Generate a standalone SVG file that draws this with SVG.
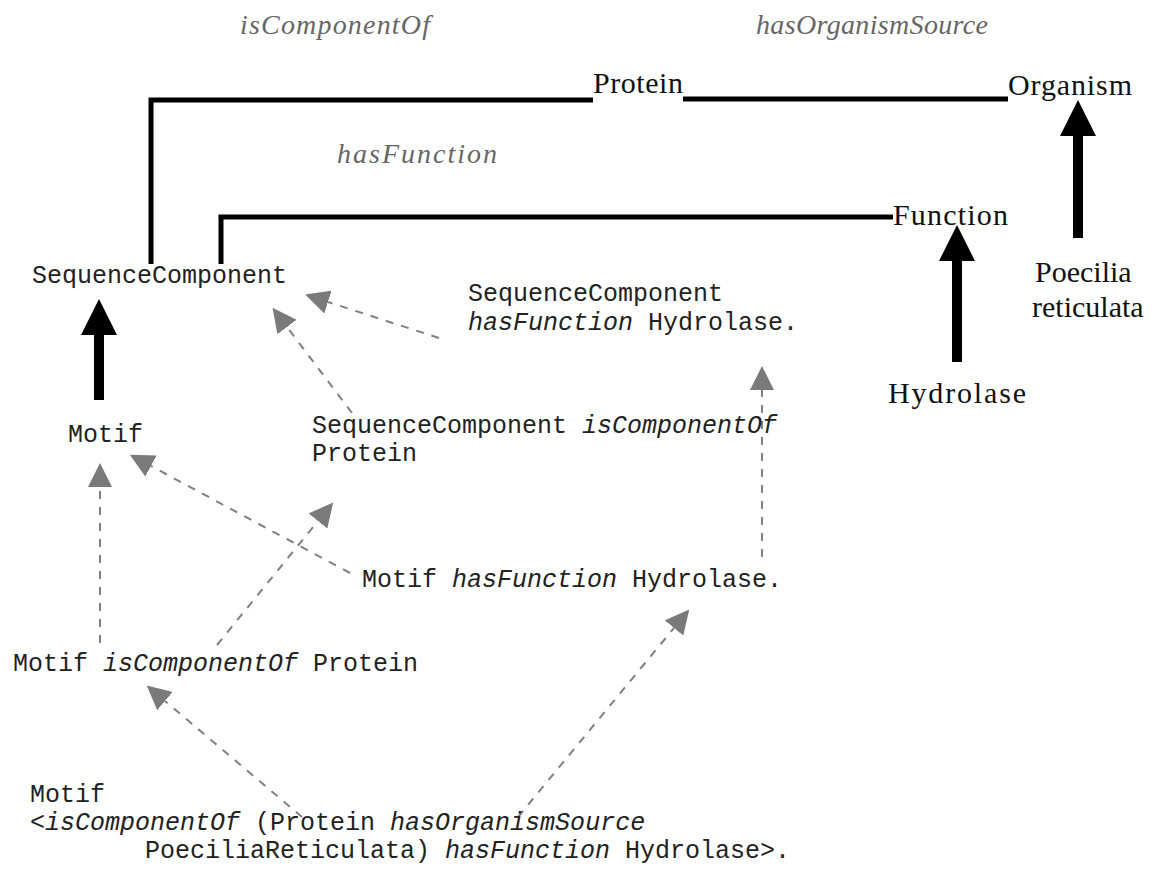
<svg xmlns="http://www.w3.org/2000/svg" width="1161" height="875" viewBox="0 0 1161 875">
  <defs>
    <style>
      .rel { font-family: "Liberation Serif", "Times New Roman", serif; font-style: italic; font-size: 28px; fill: #666; }
      .cls { font-family: "Liberation Serif", "Times New Roman", serif; font-size: 30px; fill: #111; }
      .mono { font-family: "Liberation Mono", "Courier New", monospace; font-size: 25px; fill: #222; }
      .mono tspan.it { font-style: italic; }
      .edge { fill: none; stroke: #000; stroke-width: 5; }
      .isa { fill: none; stroke: #000; stroke-width: 10; }
      .inf { fill: none; stroke: #808080; stroke-width: 2; stroke-dasharray: 8 8; }
    </style>
    <marker id="bigHead" markerUnits="userSpaceOnUse" viewBox="0 0 36 36" markerWidth="36" markerHeight="36" refX="0" refY="18" orient="auto">
      <path d="M0,0 L36,18 L0,36 z" fill="#000"/>
    </marker>
    <marker id="grayHead" markerUnits="userSpaceOnUse" viewBox="0 0 24 24" markerWidth="24" markerHeight="24" refX="0" refY="12" orient="auto">
      <path d="M0,0 L24,12 L0,24 z" fill="#7a7a7a"/>
    </marker>
  </defs>
  <rect width="1161" height="875" fill="#fff"/>

  <!-- property labels -->
  <g id="labels">
    <text class="rel" x="335" y="34" text-anchor="middle" textLength="190">isComponentOf</text>
    <text class="rel" x="872" y="34" text-anchor="middle" textLength="232">hasOrganismSource</text>
    <text class="rel" x="337" y="163" textLength="160">hasFunction</text>
  </g>

  <!-- connectors -->
  <g id="connectors">
    <!-- property edges -->
    <path class="edge" d="M151,264 V100 H593"/>
    <path class="edge" d="M683,99 H1008"/>
    <path class="edge" d="M221,264 V217 H893"/>
    <!-- subclass arrows -->
    <line class="isa" x1="957" y1="362" x2="957" y2="261" marker-end="url(#bigHead)"/>
    <line class="isa" x1="1078" y1="238" x2="1078" y2="136" marker-end="url(#bigHead)"/>
    <line class="isa" x1="99" y1="400" x2="99" y2="335" marker-end="url(#bigHead)"/>
    <!-- inferred subsumptions -->
    <line class="inf" x1="439" y1="338" x2="328" y2="302" marker-end="url(#grayHead)"/>
    <line class="inf" x1="352" y1="413" x2="287" y2="327" marker-end="url(#grayHead)"/>
    <line class="inf" x1="762" y1="557" x2="762" y2="390" marker-end="url(#grayHead)"/>
    <line class="inf" x1="350" y1="573" x2="151" y2="466" marker-end="url(#grayHead)"/>
    <line class="inf" x1="100" y1="643" x2="100" y2="487" marker-end="url(#grayHead)"/>
    <line class="inf" x1="217" y1="645" x2="318" y2="521" marker-end="url(#grayHead)"/>
    <line class="inf" x1="302" y1="817" x2="165" y2="701" marker-end="url(#grayHead)"/>
    <line class="inf" x1="518" y1="817" x2="674" y2="628" marker-end="url(#grayHead)"/>
  </g>

  <!-- named classes -->
  <g id="protein"><text class="cls" x="593" y="93" textLength="90">Protein</text></g>
  <g id="organism"><text class="cls" x="1008" y="95" textLength="124">Organism</text></g>
  <g id="function"><text class="cls" x="893" y="225" textLength="115">Function</text></g>
  <g id="hydrolase"><text class="cls" x="888" y="403" textLength="138">Hydrolase</text></g>
  <g id="poecilia">
    <text class="cls" x="1035" y="282">Poecilia</text>
    <text class="cls" x="1032" y="317">reticulata</text>
  </g>

  <!-- class expressions -->
  <g id="sequence-component"><text class="mono" x="32" y="283">SequenceComponent</text></g>
  <g id="sc-has-function">
    <text class="mono" x="468" y="301">SequenceComponent</text>
    <text class="mono" x="468" y="330"><tspan class="it">hasFunction</tspan> Hydrolase.</text>
  </g>
  <g id="sc-component-of">
    <text class="mono" x="312" y="433">SequenceComponent <tspan class="it">isComponentOf</tspan></text>
    <text class="mono" x="312" y="461">Protein</text>
  </g>
  <g id="motif"><text class="mono" x="68" y="442">Motif</text></g>
  <g id="motif-has-function"><text class="mono" x="362" y="587">Motif <tspan class="it">hasFunction</tspan> Hydrolase.</text></g>
  <g id="motif-component-of"><text class="mono" x="13" y="671">Motif <tspan class="it">isComponentOf</tspan> Protein</text></g>
  <g id="motif-full">
    <text class="mono" x="30" y="802">Motif</text>
    <text class="mono" x="30" y="830">&lt;<tspan class="it">isComponentOf</tspan> (Protein <tspan class="it">hasOrganismSource</tspan></text>
    <text class="mono" x="145" y="858">PoeciliaReticulata) <tspan class="it">hasFunction</tspan> Hydrolase&gt;.</text>
  </g>
</svg>
